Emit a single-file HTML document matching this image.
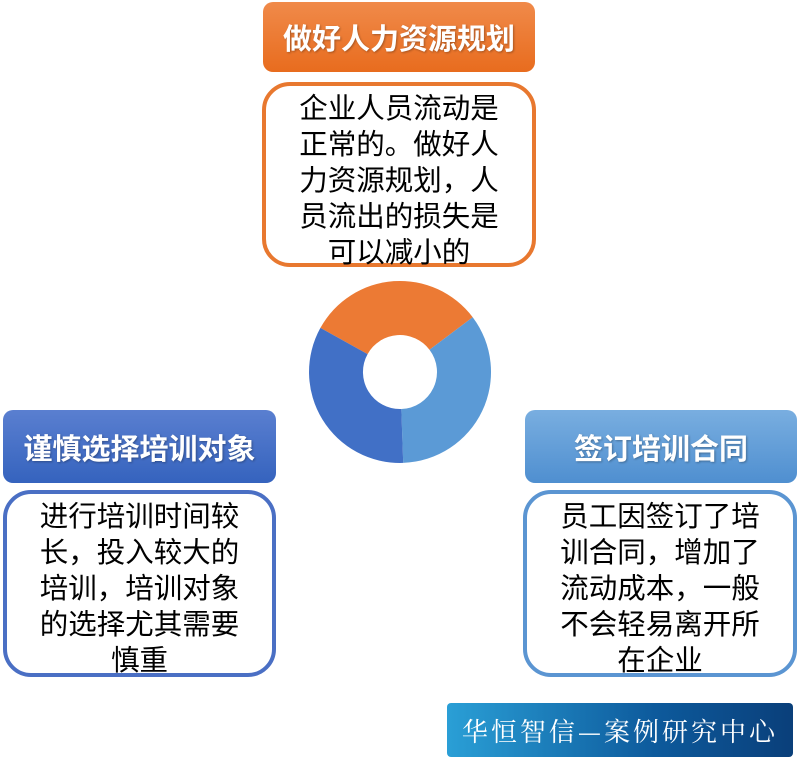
<!DOCTYPE html>
<html><head><meta charset="utf-8"><style>
body{margin:0;width:799px;height:763px;background:#fff;position:relative;overflow:hidden;font-family:"Liberation Sans","Noto Sans CJK SC",sans-serif}
.h{position:absolute;border-radius:10px;color:#fff;font-weight:bold;font-size:29px;display:flex;align-items:center;justify-content:center;text-shadow:1px 1px 2px rgba(0,0,0,.3)}
.t{position:absolute;background:#fff;border:4px solid;border-radius:28px;box-sizing:border-box;text-align:center;font-size:28.5px;line-height:36px;color:#000;padding-top:5px}
</style></head><body>
<div class="h" style="left:263px;top:2px;width:272px;height:70px;background:linear-gradient(#f08a4a,#e86c1e)">做好人力资源规划</div>
<div class="t" style="left:262px;top:82px;width:274px;height:185px;border-color:#e8782f">企业人员流动是<br>正常的。做好人<br>力资源规划，人<br>员流出的损失是<br>可以减小的</div>
<div class="h" style="left:3px;top:410px;width:273px;height:73px;background:linear-gradient(#5a7fd0,#3563be)">谨慎选择培训对象</div>
<div class="t" style="left:3px;top:490px;width:273px;height:187px;border-color:#4a6fc4">进行培训时间较<br>长，投入较大的<br>培训，培训对象<br>的选择尤其需要<br>慎重</div>
<div class="h" style="left:525px;top:410px;width:272px;height:73px;background:linear-gradient(#79aee0,#4f8fd0)">签订培训合同</div>
<div class="t" style="left:523px;top:490px;width:274px;height:187px;border-color:#5b95d2">员工因签订了培<br>训合同，增加了<br>流动成本，一般<br>不会轻易离开所<br>在企业</div>
<svg style="position:absolute;left:0;top:0" width="799" height="763">
<path d="M320.4,327.9 A91,91 0 0 1 472.7,317.2 L429.5,349.7 A37,37 0 0 0 367.6,354.1Z" fill="#ec7a34"/>
<path d="M472.7,317.2 A91,91 0 0 1 403.2,462.9 L401.3,409 A37,37 0 0 0 429.5,349.7Z" fill="#5b9ad6"/>
<path d="M403.2,462.9 A91,91 0 0 1 320.4,327.9 L367.6,354.1 A37,37 0 0 0 401.3,409Z" fill="#4170c6"/>
</svg>
<div style="position:absolute;left:447px;top:703px;width:346px;height:54px;border-radius:4px;background:linear-gradient(90deg,#2a9fd6,#0d5a9c 60%,#0a3f7a);color:#fff;font-family:'Noto Serif CJK SC',serif;font-size:26px;display:flex;align-items:center;justify-content:center;letter-spacing:3px">华恒智信—案例研究中心</div>
</body></html>
